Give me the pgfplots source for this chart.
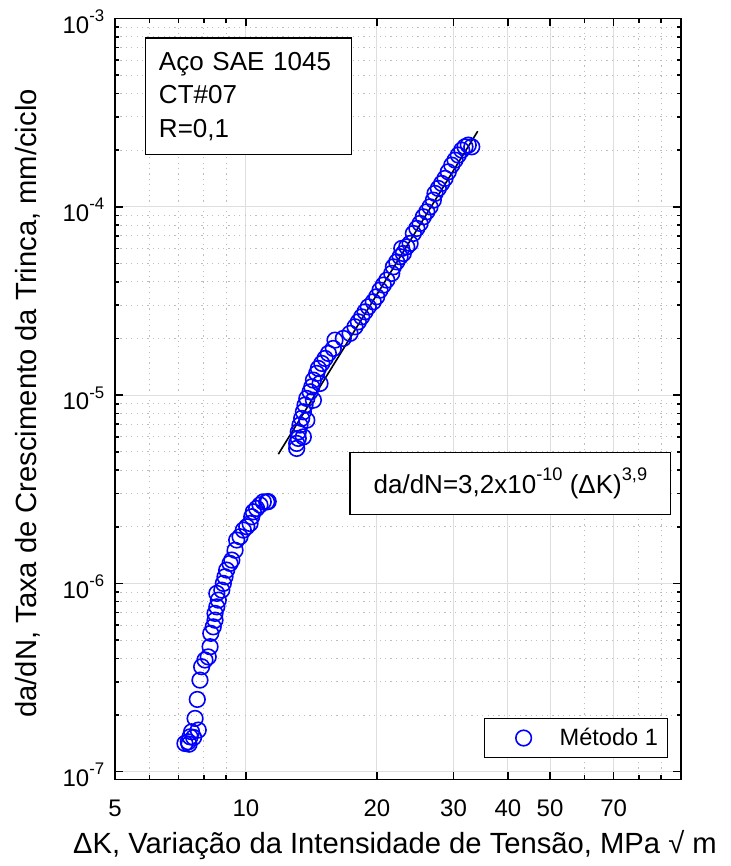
\documentclass[border=0pt]{standalone}
\usepackage{fontspec}
\setmainfont{Liberation Sans}
\usepackage{pgfplots}
\pgfplotsset{compat=1.18}
\newcommand{\sx}[2][8.4]{\raisebox{0.48em}{\fontsize{#1}{#1}\selectfont #2}}
\definecolor{majgrid}{RGB}{222,222,222}
\definecolor{mingrid}{RGB}{190,190,190}
\begin{document}
\begin{tikzpicture}
\begin{axis}[name=ax,
  scale only axis, width=283pt, height=380.4pt,
  xmode=log, ymode=log,
  xmin=5, xmax=100, ymin=9.11e-8, ymax=1e-3,
  xtick={5,10,20,30,40,50,70}, xticklabels={5,10,20,30,40,50,70},
  minor xtick={6,7,8,9,60,80,90},
  ytick={1e-7,1e-6,1e-5,1e-4,1e-3},
  yticklabels={10\sx{-7},10\sx{-6},10\sx{-5},10\sx{-4},10\sx{-3}},
  minor ytick={2e-7,3e-7,4e-7,5e-7,6e-7,7e-7,8e-7,9e-7,
               2e-6,3e-6,4e-6,5e-6,6e-6,7e-6,8e-6,9e-6,
               2e-5,3e-5,4e-5,5e-5,6e-5,7e-5,8e-5,9e-5,
               2e-4,3e-4,4e-4,5e-4,6e-4,7e-4,8e-4,9e-4},
  grid=both,
  major grid style={majgrid, line width=0.5pt},
  minor grid style={mingrid, line width=0.5pt, dash pattern=on 0.6pt off 2.1pt},
  axis line style={line width=0.8pt},
  tick style={black, line width=0.8pt},
  major tick length=3.8pt, minor tick length=2pt,
  tick label style={font=\fontsize{12}{12}\selectfont},
  xticklabel style={yshift=-6.8pt},
  yticklabel style={xshift=-1.85pt, yshift=-1.6pt},
  xlabel={ΔK, Variação da Intensidade de Tensão, MPa √ m},
  ylabel={da/dN, Taxa de Crescimento da Trinca, mm/ciclo},
  xlabel style={at={(axis description cs:0.4947,-0.0969)}, anchor=base, font=\fontsize{14.6}{14.6}\selectfont},
  ylabel style={at={(axis description cs:-0.1383,0.494)}, anchor=base, font=\fontsize{14.6}{14.6}\selectfont},
  legend style={at={(axis description cs:0.9776,0.0276)}, anchor=south east, draw=black, line width=0.7pt, fill=white,
    inner sep=0pt, column sep=0pt, row sep=0pt, font=\fontsize{11.8}{11.8}\selectfont, nodes={inner sep=0pt}},
  legend image code/.code={\draw[#1, mark repeat=1] plot coordinates {(0pt,0pt)}; \path[draw=none,fill=none] (-19.5pt,-9.8pt) rectangle (18pt,9.8pt);},
]
\addplot[only marks, mark=o, mark size=3.9pt, color=blue, line width=0.8pt] coordinates {
(7.24,1.413e-7) (7.37,1.441e-7) (7.40,1.40e-7) (7.44,1.532e-7) (7.58,1.52e-7) (7.50,1.629e-7)
(7.77,1.663e-7) (7.64,1.919e-7) (7.73,2.42e-7) (7.84,3.065e-7) (7.91,3.61e-7) (8.05,3.92e-7)
(8.19,4.07e-7) (8.27,4.61e-7) (8.30,5.43e-7) (8.41,5.88e-7) (8.49,6.38e-7) (8.49,6.93e-7)
(8.57,7.51e-7) (8.64,8.15e-7) (8.57,8.85e-7) (8.80,9.21e-7) (8.87,1.0e-6) (8.95,1.084e-6)
(9.03,1.177e-6) (9.19,1.277e-6) (9.28,1.33e-6) (9.44,1.50e-6) (9.52,1.70e-6) (9.69,1.77e-6)
(9.86,1.92e-6) (10.04,2.0e-6) (10.22,2.08e-6) (10.31,2.26e-6) (10.40,2.40e-6) (10.58,2.50e-6)
(10.77,2.61e-6) (10.96,2.71e-6) (11.16,2.71e-6) (11.25,2.72e-6)
(13.08,5.21e-6) (13.08,5.54e-6) (13.19,5.89e-6) (13.55,6.0e-6) (13.19,6.38e-6) (13.31,6.93e-6)
(13.80,7.36e-6) (13.43,7.52e-6) (13.55,8.15e-6) (13.67,8.85e-6) (14.29,9.40e-6) (13.80,9.60e-6)
(14.04,1.041e-5) (14.17,1.107e-5) (14.80,1.153e-5) (14.29,1.201e-5) (14.54,1.304e-5) (14.67,1.386e-5)
(14.94,1.474e-5) (15.20,1.566e-5) (15.47,1.665e-5) (15.88,1.77e-5) (16.02,1.959e-5) (16.74,2.0e-5)
(17.35,2.127e-5) (17.81,2.306e-5) (18.13,2.45e-5) (18.45,2.604e-5) (18.78,2.769e-5) (19.11,2.944e-5)
(19.62,3.13e-5) (19.98,3.33e-5) (20.33,3.61e-5) (20.69,3.84e-5) (21.07,4.08e-5) (21.63,4.43e-5)
(21.82,4.80e-5) (22.21,5.10e-5) (22.61,5.43e-5) (23.0,5.65e-5) (22.81,6.01e-5) (23.42,6.13e-5)
(23.84,6.39e-5) (24.25,7.22e-5) (24.70,7.68e-5) (25.13,8.16e-5) (25.57,8.85e-5) (26.04,9.41e-5)
(26.49,1.0e-4) (26.96,1.085e-4) (27.20,1.178e-4) (27.68,1.252e-4) (28.18,1.331e-4) (28.68,1.415e-4)
(29.18,1.534e-4) (29.72,1.665e-4) (30.24,1.77e-4) (30.77,1.883e-4) (31.33,2.0e-4) (31.88,2.083e-4)
(32.44,2.127e-4) (33.04,2.083e-4)
};
\addlegendentry{\makebox[54pt][l]{Método 1}}
\addplot[black, line width=0.8pt, forget plot] coordinates {(11.87,4.86e-6) (34.1,2.52e-4)};
\node[draw, line width=0.7pt, fill=white, anchor=north west, minimum width=103pt, minimum height=58.35pt,
  inner xsep=6.65pt, text width=89.7pt, align=left, font=\fontsize{13}{16.8}\selectfont]
  at (axis description cs:0.053,0.9753) {Aço SAE 1045\\CT\#07\\R=0,1};
\node[draw, line width=0.7pt, fill=white, anchor=north west, minimum width=160.35pt, minimum height=31.15pt,
  font=\fontsize{13}{13}\selectfont]
  at (axis description cs:0.414,0.4306) {da/dN=3,2x10\sx[9.1]{-10} (ΔK)\sx[9.1]{3,9}};
\end{axis}
\pgfresetboundingbox
\path[use as bounding box] ([xshift=-57.5pt,yshift=-43.35pt]ax.south west) rectangle ([xshift=25pt,yshift=9.25pt]ax.north east);
\end{tikzpicture}
\end{document}
